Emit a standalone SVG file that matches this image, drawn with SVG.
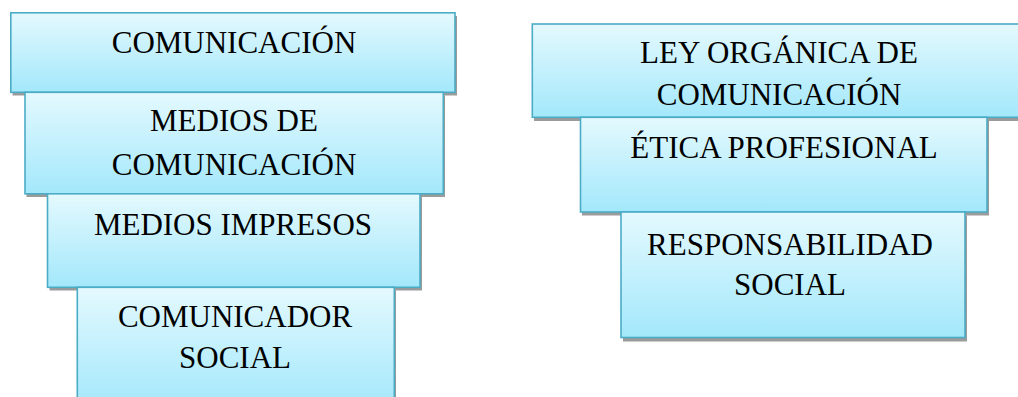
<svg xmlns="http://www.w3.org/2000/svg" width="1018" height="397" viewBox="0 0 1018 397">
<style>
.box{fill:url(#g);stroke:#4BACC6;stroke-width:1.6}
.sh{fill:#9b9b9b}
text{font-family:"Liberation Serif","Times New Roman",serif;font-size:31px;fill:#000;text-anchor:middle}
</style>
<defs>
<linearGradient id="g" x1="0" y1="0" x2="0" y2="1">
<stop offset="0" stop-color="#E4F9FE"/>
<stop offset="1" stop-color="#A3E8FB"/>
</linearGradient>
</defs>
<rect width="1018" height="397" fill="#fff"/>
<g id="n1">
<rect class="sh" x="12.5" y="16" width="444.5" height="79.5"/>
<rect class="box" x="10.8" y="12.8" width="444.2" height="79.5"/>
<text x="234" y="53">COMUNICACIÓN</text>
</g>
<g id="n2">
<rect class="sh" x="26.5" y="95.5" width="418.5" height="101.5"/>
<rect class="box" x="25" y="92.3" width="418.3" height="101.5"/>
<text x="234" y="131">MEDIOS DE</text>
<text x="234" y="175">COMUNICACIÓN</text>
</g>
<g id="n3">
<rect class="sh" x="49.5" y="197" width="372.5" height="93.5"/>
<rect class="box" x="47.5" y="193.8" width="372.5" height="93.5"/>
<text x="233" y="235">MEDIOS IMPRESOS</text>
</g>
<g id="n4">
<rect class="sh" x="79" y="290.5" width="317" height="120"/>
<rect class="box" x="77.3" y="287.3" width="317" height="120"/>
<text x="235" y="327">COMUNICADOR</text>
<text x="235" y="368">SOCIAL</text>
</g>
<g id="n5">
<rect class="sh" x="534" y="27.5" width="490" height="93.5"/>
<rect class="box" x="532.3" y="24" width="490" height="93.3"/>
<text x="779" y="63">LEY ORGÁNICA DE</text>
<text x="779" y="105">COMUNICACIÓN</text>
</g>
<g id="n6">
<rect class="sh" x="582" y="121" width="407" height="94.5"/>
<rect class="box" x="580.5" y="117.3" width="406.5" height="94.7"/>
<text x="784" y="158">ÉTICA PROFESIONAL</text>
</g>
<g id="n7">
<rect class="sh" x="623" y="215.5" width="344" height="126"/>
<rect class="box" x="621" y="212" width="344" height="125.5"/>
<text x="790" y="255">RESPONSABILIDAD</text>
<text x="790" y="295">SOCIAL</text>
</g>
<g id="connectors"></g>
</svg>
